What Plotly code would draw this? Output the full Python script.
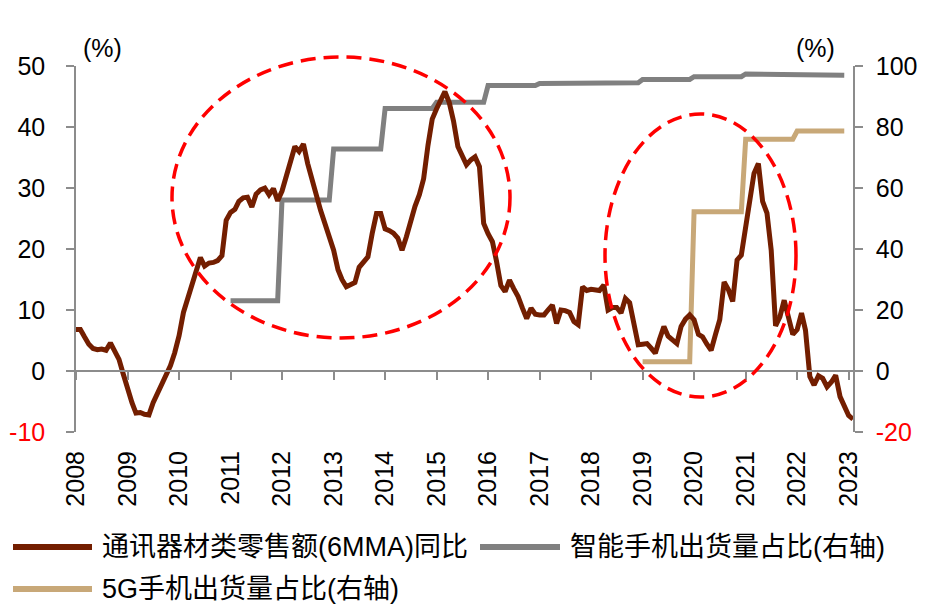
import plotly.graph_objects as go
import pandas as pd

# ---------------- data ----------------
# 通讯器材类零售额(6MMA)同比, monthly from 2008-01 to 2023-02 (%)
comm_yoy = [
    6.8, 6.8, 5.6, 4.4, 3.7, 3.5, 3.6, 3.4, 4.6, 3.2, 1.9, -0.5,        # 2008
    -3.2, -5.2, -6.9, -6.8, -7.1, -7.2, -5.2, -3.6, -2.0, -0.8, 0.9, 3.0,  # 2009
    5.8, 9.6, 11.6, 13.9, 16.5, 18.6, 17.2, 17.7, 17.8, 18.1, 18.9, 24.7,  # 2010
    26.0, 26.5, 27.8, 28.4, 28.5, 26.9, 29.0, 29.7, 30.0, 28.9, 29.9, 27.9,  # 2011
    29.5, 32.0, 34.8, 36.8, 36.0, 37.2, 34.0, 31.0, 28.8, 26.3, 24.3, 22.0,  # 2012
    19.8, 16.6, 15.0, 13.8, 14.1, 14.5, 17.0, 17.8, 18.7, 22.5, 25.8, 25.8,  # 2013
    23.3, 23.0, 22.6, 21.8, 19.8, 22.0, 24.6, 27.0, 28.9, 31.5, 37.0, 41.3,  # 2014
    43.0, 44.5, 45.8, 44.0, 41.0, 36.8, 35.3, 33.8, 34.6, 35.1, 33.5, 24.2,  # 2015
    22.5, 21.2, 18.0, 14.0, 13.0, 14.9, 13.5, 12.2, 10.3, 8.6, 10.3, 9.3,   # 2016
    9.2, 9.2, 10.0, 10.8, 7.8, 10.0, 9.9, 9.6, 8.1, 7.6, 13.8, 13.2,       # 2017
    13.4, 13.3, 13.2, 14.1, 10.0, 10.4, 10.4, 9.5, 11.9, 11.2, 7.5, 4.3,   # 2018
    4.4, 4.5, 3.8, 2.9, 5.2, 7.3, 5.7, 5.0, 4.5, 7.3, 8.5, 9.2,            # 2019
    8.4, 6.0, 5.6, 4.4, 3.4, 6.0, 8.4, 14.6, 13.3, 11.4, 18.2, 19.0,       # 2020
    24.0, 29.0, 32.4, 34.0, 27.8, 25.9, 19.8, 7.4, 8.9, 11.6, 9.0, 6.0,    # 2021
    6.8, 9.5, 6.7, -0.9, -2.3, -0.8, -1.2, -2.6, -1.8, -0.7, -4.2, -6.0,   # 2022
    -7.3, -7.9,                                                            # 2023
]
comm_start = "2008-01-01"

# 智能手机出货量占比 (annual, right axis, %)
smart_years = [2011, 2012, 2013, 2014, 2015, 2016, 2017, 2018, 2019, 2020, 2021, 2022]
smart_share = [23.0, 56.1, 72.8, 86.1, 88.1, 93.6, 94.3, 94.5, 95.6, 96.5, 97.4, 97.0]

# 5G手机出货量占比 (annual, right axis, %)
g5_years = [2019, 2020, 2021, 2022]
g5_share = [3.0, 52.2, 76.0, 78.7]

tick_years = list(range(2008, 2024))
left_ticks = [-10, 0, 10, 20, 30, 40, 50]
right_ticks = [-20, 0, 20, 40, 60, 80, 100]

names = ["通讯器材类零售额(6MMA)同比", "智能手机出货量占比(右轴)", "5G手机出货量占比(右轴)"]
colors = ["#731E00", "#808080", "#C8A878"]

# ---------------- layout helpers ----------------
# the page body adds an 8px offset, so the figure is 8px smaller and
# reference pixel positions are converted with the plot box below
OFF = 8
W, H = 932 - OFF, 609 - OFF
PL, PR, PT, PB = 76, 853, 66, 432          # plot box in window pixels
ML, MT = PL - OFF, PT - OFF
MR, MB = 932 - PR, 609 - PB
PW, PH = PR - PL, PB - PT


def pxx(x):
    return (x - PL) / PW


def pxy(y):
    return (PB - y) / PH


def monthly(years, vals):
    xs, ys = [], []
    for yr, v in zip(years, vals):
        for m in range(1, 13):
            xs.append(f"{yr}-{m:02d}-01")
            ys.append(v)
    return xs, ys


def tick_text(vals):
    out = []
    for v in vals:
        if v < 0:
            out.append(f'<span style="color:#FF0000">{v}</span>')
        else:
            out.append(str(v))
    return out


comm_dates = pd.date_range(comm_start, periods=len(comm_yoy), freq="MS")
sx, sy = monthly(smart_years, smart_share)
gx, gy = monthly(g5_years, g5_share)

FONT = "Liberation Sans, Arial, Noto Sans CJK SC, sans-serif"
AX = "#8C8C8C"

fig = go.Figure()
fig.add_trace(go.Scatter(x=sx, y=sy, mode="lines", name=names[1], yaxis="y",
                         line=dict(color=colors[1], width=5), showlegend=False))
fig.add_trace(go.Scatter(x=gx, y=gy, mode="lines", name=names[2], yaxis="y",
                         line=dict(color=colors[2], width=5), showlegend=False))
fig.add_trace(go.Scatter(x=comm_dates, y=comm_yoy, mode="lines", name=names[0], yaxis="y2",
                         line=dict(color=colors[0], width=5), showlegend=False))
# carrier for the axis line drawn at y=0
fig.add_trace(go.Scatter(x=[None], y=[None], xaxis="x2", yaxis="y", mode="lines",
                         showlegend=False, hoverinfo="skip"))

xr = ["2008-01-01", "2023-02-01"]
tv = [f"{y}-01-01" for y in tick_years]

shapes = []
# red dashed ellipses
for (x0, y0, x1, y1) in [(172, 57, 510, 338), (605, 114, 796, 397)]:
    shapes.append(dict(type="circle", xref="paper", yref="paper",
                       x0=pxx(x0), x1=pxx(x1), y0=pxy(y1), y1=pxy(y0),
                       line=dict(color="#FF0000", width=3.5, dash="15px,8px")))

annotations = [
    dict(text="(%)", xref="paper", yref="paper", x=pxx(102), y=pxy(48), showarrow=False,
         font=dict(size=25, color="black", family=FONT), xanchor="center", yanchor="middle"),
    dict(text="(%)", xref="paper", yref="paper", x=pxx(815), y=pxy(48), showarrow=False,
         font=dict(size=25, color="black", family=FONT), xanchor="center", yanchor="middle"),
]

# custom legend
legend_items = [
    (0, 13, 92, 100, 547),
    (1, 480, 560, 568, 547),
    (2, 13, 92, 100, 589),
]
for idx, lx0, lx1, tx, ly in legend_items:
    shapes.append(dict(type="line", xref="paper", yref="paper",
                       x0=pxx(lx0), x1=pxx(lx1), y0=pxy(ly), y1=pxy(ly),
                       line=dict(color=colors[idx], width=6)))
    annotations.append(dict(text=names[idx], xref="paper", yref="paper",
                            x=pxx(tx), y=pxy(ly), showarrow=False,
                            xanchor="left", yanchor="middle",
                            font=dict(size=27, color="black", family=FONT)))

fig.update_layout(
    width=W, height=H,
    margin=dict(l=ML, r=MR, t=MT, b=MB, autoexpand=False),
    paper_bgcolor="white", plot_bgcolor="white",
    font=dict(family=FONT, size=25, color="black"),
    showlegend=False,
    xaxis=dict(type="date", range=xr, tickvals=tv, ticktext=[str(y) for y in tick_years],
               tickangle=-90, ticks="outside", ticklen=8, tickcolor="rgba(0,0,0,0)",
               showline=False, showgrid=False, zeroline=False,
               tickfont=dict(size=25, color="black")),
    xaxis2=dict(type="date", overlaying="x", anchor="free", position=pxy(371), range=xr,
                tickvals=tv, showticklabels=False, ticks="outside", ticklen=8,
                tickwidth=1.5, tickcolor=AX, showline=True, linecolor=AX, linewidth=1.5,
                showgrid=False, zeroline=False),
    yaxis=dict(side="right", range=[-20, 100], tickvals=right_ticks,
               ticktext=tick_text(right_ticks), ticks="outside", ticklen=8,
               tickwidth=1.5, tickcolor=AX, showline=True, linecolor=AX, linewidth=1.5,
               showgrid=False, zeroline=False, ticklabelstandoff=8,
               tickfont=dict(size=25, color="black")),
    yaxis2=dict(overlaying="y", side="left", range=[-10, 50], tickvals=left_ticks,
                ticktext=tick_text(left_ticks), ticks="outside", ticklen=8,
                tickwidth=1.5, tickcolor=AX, showline=True, linecolor=AX, linewidth=1.5,
                showgrid=False, zeroline=False, ticklabelstandoff=16,
                tickfont=dict(size=25, color="black")),
    shapes=shapes,
    annotations=annotations,
)

fig.write_html("out.html")
